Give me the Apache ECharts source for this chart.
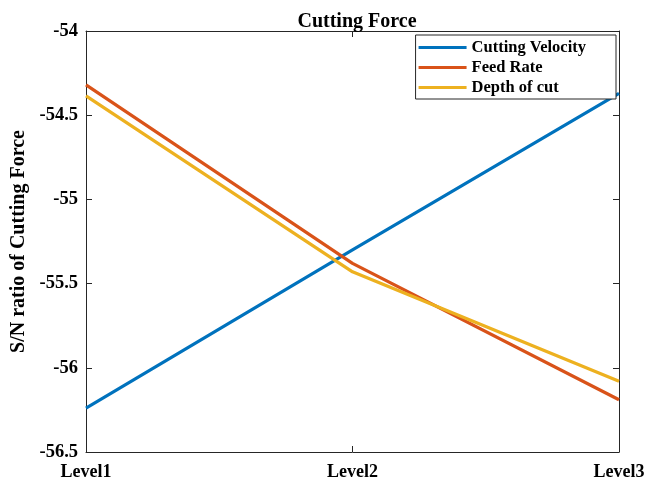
<!DOCTYPE html>
<html><head><meta charset="utf-8">
<script src="https://cdn.jsdelivr.net/npm/echarts@6/dist/echarts.min.js"></script>
<style>html,body{margin:0;padding:0;background:#fff}#c{width:662px;height:484px}</style>
</head><body><div id="c"></div>
<script>
const categories = ['Level1', 'Level2', 'Level3'];
const cuttingVelocity = [-56.24, -55.30, -54.37];
const feedRate = [-54.32, -55.38, -56.19];
const depthOfCut = [-54.385, -55.43, -56.08];
const seriesNames = ['Cutting Velocity', 'Feed Rate', 'Depth of cut'];
const colors = ['#0072BD', '#D95319', '#EDB120'];
const font = 'Liberation Serif';
const chart = echarts.init(document.getElementById('c'));
const axisLine = {show: true, lineStyle: {color: '#262626', width: 1}};
const tick = {show: true, inside: true, length: 6, lineStyle: {color: '#262626'}};
chart.setOption({
  animation: false,
  title: {text: 'Cutting Force', left: 352, top: 7, textAlign: 'center',
    textStyle: {fontFamily: font, fontWeight: 'bold', fontSize: 20, color: '#000'}},
  legend: {
    right: 46, top: 35, orient: 'vertical', itemGap: 3, itemWidth: 48, itemHeight: 3,
    padding: [4, 30, 3, 3], borderColor: '#262626', borderWidth: 1, borderRadius: 0, backgroundColor: '#fff',
    icon: 'rect', data: seriesNames,
    textStyle: {fontFamily: font, fontWeight: 'bold', fontSize: 16.5, color: '#000'}
  },
  grid: {left: 86, right: 43, top: 31, bottom: 32},
  xAxis: [{
    type: 'category', data: categories, boundaryGap: false,
    axisLine: axisLine, axisTick: tick,
    axisLabel: {fontFamily: font, fontWeight: 'bold', fontSize: 18, color: '#000', margin: 11},
    splitLine: {show: false}
  }, {
    type: 'category', data: categories, boundaryGap: false, position: 'top',
    axisLine: axisLine, axisTick: tick,
    axisLabel: {show: false}, splitLine: {show: false}
  }],
  yAxis: [{
    type: 'value', min: -56.5, max: -54, interval: 0.5,
    name: 'S/N ratio of Cutting Force', nameLocation: 'middle', nameGap: 52, nameRotate: 90,
    nameTextStyle: {fontFamily: font, fontWeight: 'bold', fontSize: 20, color: '#000'},
    axisLine: axisLine, axisTick: tick,
    axisLabel: {fontFamily: font, fontWeight: 'bold', fontSize: 18.5, color: '#000', margin: 8,
      formatter: v => String(Math.round(v * 10) / 10)},
    splitLine: {show: false}
  }, {
    type: 'value', min: -56.5, max: -54, interval: 0.5, position: 'right',
    axisLine: axisLine, axisTick: tick,
    axisLabel: {show: false}, splitLine: {show: false}
  }],
  series: [
    {name: seriesNames[0], type: 'line', data: cuttingVelocity, color: colors[0], symbol: 'none', lineStyle: {width: 3.2}},
    {name: seriesNames[1], type: 'line', data: feedRate, color: colors[1], symbol: 'none', lineStyle: {width: 3.2}},
    {name: seriesNames[2], type: 'line', data: depthOfCut, color: colors[2], symbol: 'none', lineStyle: {width: 3.2}}
  ]
});
</script></body></html>
